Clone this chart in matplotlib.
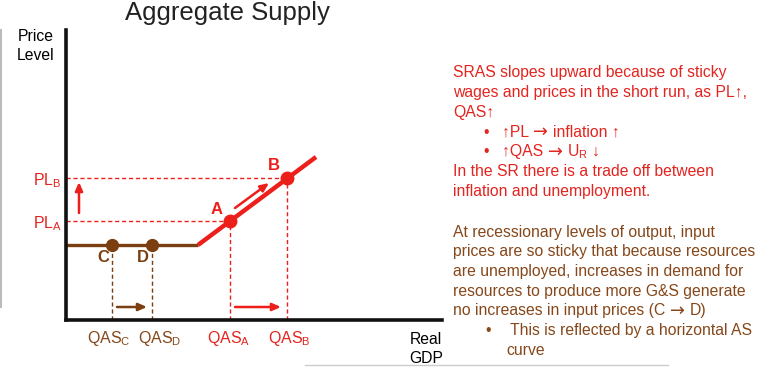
import matplotlib.pyplot as plt
from matplotlib.lines import Line2D

plt.rcParams['font.family'] = ['Liberation Sans', 'DejaVu Sans']
plt.rcParams['mathtext.fontset'] = 'custom'
plt.rcParams['mathtext.rm'] = 'Liberation Sans'

W, H = 776, 383
RED = '#ec1f1a'
BROWN = '#7a3e10'
TRED = '#e3241f'
TBROWN = '#86471a'
ARROW = '\u2192'

# schematic AS curve (real GDP, price level)
flat_x = [0, 132]
flat_y = [75, 75]
sras_x = [132, 250]
sras_y = [75, 163]

# labelled points
pts_cd = {'C': (46, 75), 'D': (86, 75)}
pts_ab = {'A': (164, 99), 'B': (221, 142)}

tick_pos = [46, 86, 164, 221]
tick_lab = [r'QAS$_\mathregular{C}$', r'QAS$_\mathregular{D}$',
            r'QAS$_\mathregular{A}$', r'QAS$_\mathregular{B}$']
tick_col = [TBROWN, TBROWN, TRED, TRED]
tick_shift = [-3, 8, -1, 2]
pl_pos = [99, 142]
pl_lab = [r'PL$_\mathregular{A}$', r'PL$_\mathregular{B}$']

# arrows (start, end)
arr_up = ((13, 107), (13, 138))
arr_cd = ((51, 13), (81, 13))
arr_ab = ((169, 13), (215, 13))
arr_diag = ((169, 112), (203, 137))

red_lines = [
    'SRAS slopes upward because of sticky',
    'wages and prices in the short run, as PL\u2191,',
    'QAS\u2191',
    'In the SR there is a trade off between',
    'inflation and unemployment.',
]
red_bullets = [
    ['\u2191PL ', ARROW, 'inflation \u2191'],
    ['\u2191QAS ', ARROW, 'U$_\\mathregular{R}$ \u2193'],
]
brown_lines = [
    ['At recessionary levels of output, input'],
    ['prices are so sticky that because resources'],
    ['are unemployed, increases in demand for'],
    ['resources to produce more G&S generate'],
    ['no increases in input prices (C ', ARROW, 'D)'],
]

FS = 11.3


def fx(px):
    return px / W


def fy(py):
    return 1 - py / H


fig = plt.figure(figsize=(W / 100, H / 100), dpi=100)
renderer = fig.canvas.get_renderer()


def rich(px, py, parts, color):
    # draw pieces side by side; arrow glyphs come from DejaVu Sans
    x = fx(px)
    for p in parts:
        if p == ARROW:
            t = fig.text(x, fy(py), p, color=color, fontsize=FS + 1.5, va='center',
                         family='DejaVu Sans')
            x += (t.get_window_extent(renderer).width + 5) / W
        else:
            t = fig.text(x, fy(py), p, color=color, fontsize=FS, va='center')
            x += t.get_window_extent(renderer).width / W


ax = fig.add_axes([fx(66), fy(320), 376 / W, 290 / H])
ax.set_xlim(0, 376)
ax.set_ylim(0, 290)
for s in ['top', 'right']:
    ax.spines[s].set_visible(False)
for s in ['left', 'bottom']:
    ax.spines[s].set_linewidth(2.6)
    ax.spines[s].set_color('#111111')

# dashed guides
for name, (x, y) in pts_cd.items():
    ax.plot([x, x], [0, y], ls=(0, (3, 2)), lw=1, color=BROWN)
for name, (x, y) in pts_ab.items():
    ax.plot([x, x], [0, y], ls=(0, (3, 2)), lw=1, color=RED)
    ax.plot([0, x], [y, y], ls=(0, (3, 2)), lw=1, color=RED)

ax.plot(flat_x, flat_y, color=BROWN, lw=2.4, solid_capstyle='butt')
ax.plot(sras_x, sras_y, color=RED, lw=3.2, solid_capstyle='butt')

for name, (x, y) in pts_cd.items():
    ax.plot(x, y, 'o', color=BROWN, ms=8.5, clip_on=False)
    ax.text(x - 9, y - 13, name, color=BROWN, fontsize=12, fontweight='bold',
            ha='center', va='center')
for name, (x, y) in pts_ab.items():
    ax.plot(x, y, 'o', color=RED, ms=9, clip_on=False, zorder=5)
    ax.text(x - 13, y + 12, name, color=RED, fontsize=12, fontweight='bold',
            ha='center', va='center')

for (s, e), c in [(arr_up, RED), (arr_cd, BROWN), (arr_ab, RED), (arr_diag, RED)]:
    ax.annotate('', xy=e, xytext=s,
                arrowprops=dict(arrowstyle='-|>,head_length=0.5,head_width=0.22',
                                color=c, lw=1.8, shrinkA=0, shrinkB=0))

# quantity labels under the axis
ax.set_xticks([])
for pos, lab, c, dx in zip(tick_pos, tick_lab, tick_col, tick_shift):
    ax.annotate(lab, xy=(pos, 0), xycoords=('data', 'axes fraction'),
                xytext=(dx, -9), textcoords='offset pixels', ha='center', va='top',
                color=c, fontsize=11.5)
ax.set_yticks(pl_pos)
ax.set_yticklabels(pl_lab, fontsize=11.5, color=TRED)
ax.tick_params(length=0, pad=3)

# axis titles and chart title
fig.text(fx(36), fy(46), 'Price\nLevel', ha='center', va='center', fontsize=11.3,
         linespacing=1.4)
fig.text(fx(426), fy(349), 'Real\nGDP', ha='center', va='center', fontsize=11.3,
         linespacing=1.4)
fig.text(fx(227), fy(1), 'Aggregate Supply', ha='center', va='top', fontsize=18.5,
         color='#222222')

# right-hand notes
y0 = 73
step = 19.7
for i, line in enumerate(red_lines[:3]):
    rich(453, y0 + i * step, [line], TRED)
for i, parts in enumerate(red_bullets):
    yy = y0 + (3 + i) * step
    rich(483, yy, ['\u2022'], TRED)
    rich(502, yy, parts, TRED)
for i, line in enumerate(red_lines[3:]):
    rich(453, y0 + (5 + i) * step, [line], TRED)

y1 = 232
for i, parts in enumerate(brown_lines):
    rich(453, y1 + i * step, parts, TBROWN)
rich(485, y1 + 5 * step, ['\u2022'], TBROWN)
rich(510, y1 + 5 * step, ['This is reflected by a horizontal AS'], TBROWN)
rich(506, y1 + 6 * step, ['curve'], TBROWN)

# slide edge artifacts
fig.add_artist(Line2D([fx(1), fx(1)], [fy(30), fy(307)], color='#bbbbbb', lw=1.5))
fig.add_artist(Line2D([fx(305), fx(668)], [fy(365), fy(365)], color='#cccccc', lw=1))

fig.savefig('out.png', dpi=100, facecolor='white')
